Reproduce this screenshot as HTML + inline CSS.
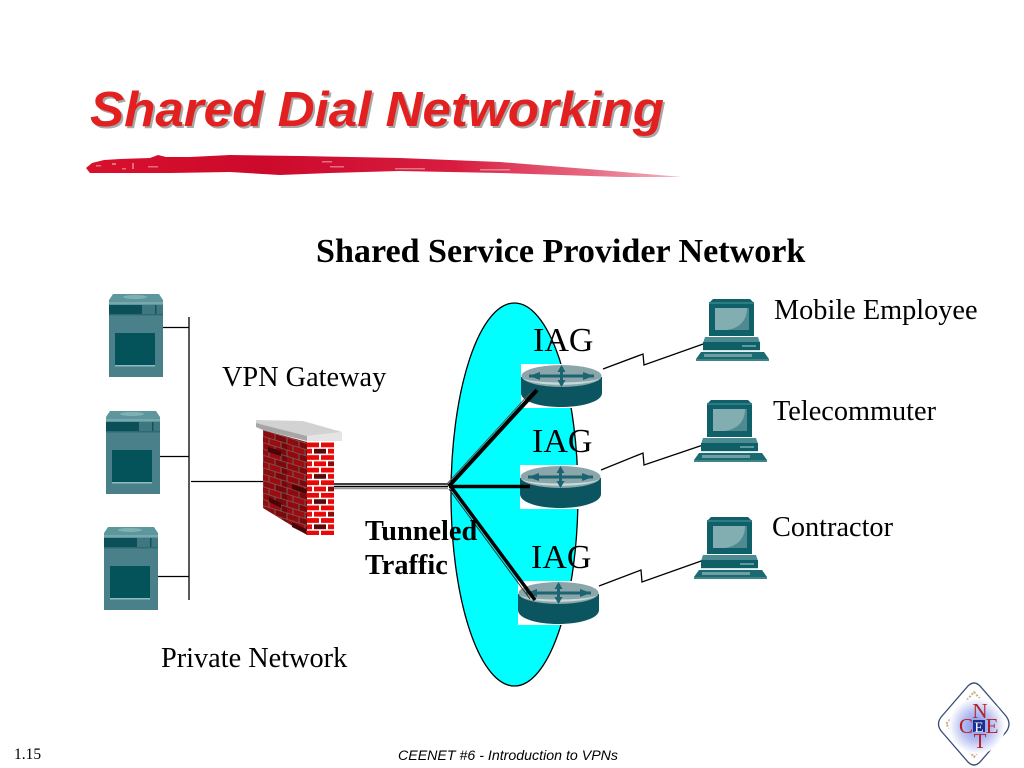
<!DOCTYPE html>
<html><head><meta charset="utf-8"><style>
html,body{margin:0;padding:0;background:#fff;width:1024px;height:768px;overflow:hidden}
svg{display:block}
text{font-family:"Liberation Serif",serif;fill:#000}
</style></head><body>
<svg width="1024" height="768" viewBox="0 0 1024 768" xmlns="http://www.w3.org/2000/svg">
<defs>
<linearGradient id="br" x1="0" x2="1" y1="0" y2="0"><stop offset="0" stop-color="#d8102c"/><stop offset=".3" stop-color="#cc0a2c"/><stop offset=".62" stop-color="#d81c40"/><stop offset=".85" stop-color="#e66c84"/><stop offset="1" stop-color="#f4b8c4"/></linearGradient>
<radialGradient id="lg"><stop offset="0" stop-color="#7f8fe8"/><stop offset=".55" stop-color="#b8c2f2"/><stop offset="1" stop-color="#fff"/></radialGradient>
<pattern id="bl" width="24" height="12.600" patternUnits="userSpaceOnUse" patternTransform="translate(263,430) skewY(17)"><rect width="24" height="12.600" fill="#7a5c58"/><rect x="0.500" y="0.500" width="11" height="5.500" fill="#8e0a0e"/><rect x="12.500" y="0.500" width="11" height="5.500" fill="#7c080c"/><rect x="0" y="6.800" width="5.500" height="5.500" fill="#940c10"/><rect x="6.500" y="6.800" width="11" height="5.500" fill="#9a0c10"/><rect x="18.500" y="6.800" width="5.500" height="5.500" fill="#74070b"/></pattern>
<pattern id="br2" width="27" height="25.200" patternUnits="userSpaceOnUse" x="307" y="442"><rect width="27" height="25.200" fill="#fff"/><rect x="0" y="0.500" width="12" height="4.800" fill="#e80808"/><rect x="14" y="0.500" width="13" height="4.800" fill="#e80808"/><rect x="0" y="6.800" width="5" height="4.800" fill="#e80808"/><rect x="7" y="6.800" width="12" height="4.800" fill="#5c0808"/><rect x="21" y="6.800" width="6" height="4.800" fill="#e80808"/><rect x="0" y="13.100" width="12" height="4.800" fill="#e80808"/><rect x="14" y="13.100" width="13" height="4.800" fill="#e80808"/><rect x="0" y="19.400" width="5" height="4.800" fill="#e80808"/><rect x="7" y="19.400" width="12" height="4.800" fill="#e80808"/><rect x="21" y="19.400" width="6" height="4.800" fill="#8a0808"/></pattern>
<g id="srv">
<rect x="0" y="8" width="54" height="75" fill="#4a8089"/>
<polygon points="4,0 50,0 54,6 54,11 0,11 0,6" fill="#5d969d"/>
<ellipse cx="26" cy="3" rx="12" ry="2" fill="#7fb0b4"/>
<rect x="0" y="8" width="54" height="2" fill="#77a8ad"/>
<rect x="0" y="11" width="33" height="9" fill="#0b5058"/>
<rect x="33" y="11" width="21" height="9" fill="#3f7780"/>
<rect x="46" y="11" width="1.500" height="9" fill="#0e555d"/>
<rect x="0" y="20" width="54" height="1.500" fill="#2e6a72"/>
<rect x="6" y="39" width="40" height="32" fill="#04525a"/>
<rect x="6" y="71" width="40" height="1.500" fill="#8dbcc0"/>
</g>
<g id="rtr">
<rect x="0" y="0" width="81" height="44" fill="#fff"/>
<path d="M0,13 L0,29 C0,38 20,43 40,43 C60,43 81,38 81,29 L81,13 Z" fill="#0b5561"/>
<ellipse cx="40.500" cy="12" rx="40" ry="11" fill="#8aa6ab"/>
<path d="M1,14 C10,23 70,23 80,14 C70,20 10,20 1,14Z" fill="#c8dadb"/>
<path d="M8,12 H73 M40.500,3 V21" stroke="#1c6470" stroke-width="3" fill="none"/>
<polygon points="8,12 19,8 19,16" fill="#1c6470"/><polygon points="73,12 62,8 62,16" fill="#1c6470"/>
<polygon points="40.500,1 36.500,8 44.500,8" fill="#1c6470"/><polygon points="40.500,23 36.500,16 44.500,16" fill="#1c6470"/>
</g>
<g id="pc">
<polygon points="13,4 17,0 54,0 58,4 58,37 13,37" fill="#0f6068"/>
<rect x="13" y="3" width="45" height="2" fill="#2d7b83"/>
<polygon points="19,9 53,9 53,31 19,31" fill="#82aeb2"/>
<path d="M53,9 V31 H31 C44,29 51,21 51,9Z" fill="#4f8a90"/>
<polygon points="9,38 62,38 64,44 7,44" fill="#4c8b92"/>
<rect x="7" y="43" width="57" height="8" fill="#0f5f67"/>
<rect x="46" y="46" width="14" height="2" fill="#5c9aa0"/>
<rect x="7" y="51" width="57" height="1.500" fill="#cfe2e3"/>
<polygon points="5,53 68,53 73,60 73,62 0,62 0,60" fill="#1b6a72"/>
<rect x="8" y="55" width="48" height="3" fill="#6f9ea3"/>
<rect x="0" y="60" width="73" height="2" fill="#3f848b"/>
</g>
</defs>

<!-- title -->
<text x="92" y="128" font-size="49.500" font-weight="bold" font-style="italic" textLength="574" lengthAdjust="spacingAndGlyphs" style="font-family:'Liberation Sans',sans-serif;fill:#a8a8a8">Shared Dial Networking</text>
<text x="90" y="126" font-size="49.500" font-weight="bold" font-style="italic" textLength="574" lengthAdjust="spacingAndGlyphs" style="font-family:'Liberation Sans',sans-serif;fill:#e1201f">Shared Dial Networking</text>

<!-- brush -->
<path d="M86,168 L92,163 L104,160 L120,159 L150,158 L158,155 L166,157 L190,157 L230,155 L300,156 L400,158 L500,162 L600,170 L682,177 L620,177 L500,173 L400,171 L330,173 L280,175 L230,172 L170,173 L120,173 L90,173 Z" fill="url(#br)"/>
<g fill="#fff" opacity=".4">
<rect x="96" y="165" width="5" height="1.500"/><rect x="112" y="163" width="4" height="2"/><rect x="122" y="168" width="4" height="1.500"/><rect x="132" y="163" width="2" height="6"/><rect x="148" y="166" width="10" height="1.500"/>
<rect x="322" y="161" width="10" height="1.500"/><rect x="330" y="166" width="14" height="1.500"/><rect x="395" y="168" width="30" height="1.500"/><rect x="480" y="169" width="30" height="1.500"/>
</g>

<text x="316" y="262" font-size="34.100" font-weight="bold">Shared Service Provider Network</text>

<!-- ellipse -->
<ellipse cx="514.500" cy="494.500" rx="63.500" ry="191.500" fill="#00ffff" stroke="#000" stroke-width="1.300"/>

<!-- servers -->
<use href="#srv" x="109" y="294"/>
<use href="#srv" x="106" y="411"/>
<use href="#srv" x="104" y="527"/>
<g stroke="#000" stroke-width="1.300" fill="none">
<path d="M189,317 V600 M163,327.500 H189 M160,456.500 H189 M158,576.500 H189 M191,481.500 H264"/>
</g>

<!-- firewall -->
<polygon points="263,430 307,442 307,535 263,508" fill="url(#bl)"/>
<g fill="#4a0408"><polygon points="268,447 281,451 281,456 268,452"/><polygon points="292,484 306,489 306,494 292,489"/><polygon points="269,497 281,503 281,508 269,502"/><polygon points="292,522 306,529 306,534 292,527"/></g>
<rect x="307" y="442" width="27" height="93" fill="url(#br2)"/>
<polygon points="256,420 303,421 342,432 307,436 256,423" fill="#d2d2d2"/>
<polygon points="256,423 307,436 307,441 263,430 256,427" fill="#a6a6a6"/>
<polygon points="307,436 342,432 342,441 307,441" fill="#e4e4e4"/>

<!-- routers -->
<use href="#rtr" x="521" y="364"/>
<use href="#rtr" x="520" y="465"/>
<use href="#rtr" x="518" y="581"/>

<!-- tunnel lines -->
<g fill="none" stroke-linecap="butt">
<path d="M334,484 H448" stroke="#000" stroke-width="1.600"/>
<path d="M334,486.500 H448" stroke="#000" stroke-width="1.600"/>
<path d="M334,488.500 H448" stroke="#999" stroke-width="1.500"/>
<path d="M449,486 L537,390" stroke="#000" stroke-width="4"/>
<path d="M446,485 L530,393" stroke="#555" stroke-width="1"/>
<path d="M449,486.500 H530" stroke="#000" stroke-width="3.500"/>
<path d="M449,484 L535,600" stroke="#000" stroke-width="3.500"/>
<path d="M449,489 L530,599" stroke="#333" stroke-width="1"/>
</g>

<!-- lightning -->
<g stroke="#000" stroke-width="1.300" fill="none">
<polyline points="603,369 643,354 644,365 706,343"/>
<polyline points="601,470 643,453 644,465 706,444"/>
<polyline points="599,586 641,570 642,582 704,560"/>
</g>

<!-- PCs -->
<use href="#pc" x="696" y="299"/>
<use href="#pc" x="694" y="400"/>
<use href="#pc" x="694" y="517"/>

<!-- labels -->
<text x="533" y="351" font-size="34">IAG</text>
<text x="532" y="452" font-size="34">IAG</text>
<text x="531" y="568" font-size="34">IAG</text>
<g font-size="28.300">
<text x="774" y="319">Mobile Employee</text>
<text x="773" y="420">Telecommuter</text>
<text x="772" y="536">Contractor</text>
<text x="222" y="386">VPN Gateway</text>
<text x="161" y="667">Private Network</text>
<text x="365" y="540" font-weight="bold">Tunneled</text>
<text x="365" y="574" font-weight="bold">Traffic</text>
</g>

<!-- footer -->
<text x="14" y="759" font-size="15.500">1.15</text>
<text x="398" y="760" font-size="14.200" font-style="italic" style="font-family:'Liberation Sans',sans-serif">CEENET #6 - Introduction to VPNs</text>

<!-- logo -->
<path d="M968,686 Q974,680 980,686 L1006,716 Q1012,724 1006,732 L980,762 Q974,768 968,762 L942,732 Q935,724 942,716 Z" fill="#fff" stroke="#3a4c78" stroke-width="1.300"/>
<path d="M974,692 L1002,724 L974,757 L946,724 Z" fill="none" stroke="#b89a70" stroke-width="2" stroke-dasharray="2 1.500" opacity=".8"/>
<circle cx="977" cy="726" r="28" fill="url(#lg)"/>
<rect x="973" y="720" width="12" height="12" fill="#1c2f90"/>
<g font-size="21" text-anchor="middle" font-weight="normal">
<text x="980" y="718" style="fill:#b52028">N</text>
<text x="966" y="733" style="fill:#b52028">C</text>
<text x="979" y="732" font-size="15" style="fill:#fff">E</text>
<text x="992" y="733" style="fill:#b52028">E</text>
<text x="980" y="748" style="fill:#b52028">T</text>
</g>
</svg>
</body></html>
